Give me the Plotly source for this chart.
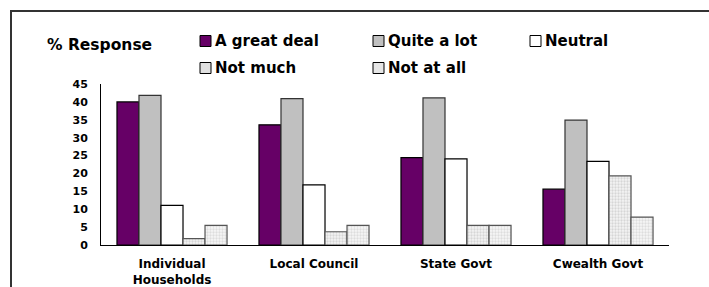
import plotly.graph_objects as go

categories = ["Individual<br>Households", "Local Council", "State Govt", "Cwealth Govt"]
series_names = ["A great deal", "Quite a lot", "Neutral", "Not much", "Not at all"]
great_deal = [40, 33.6, 24.4, 15.6]
quite_a_lot = [41.8, 40.9, 41.1, 34.9]
neutral = [11.1, 16.8, 24.1, 23.4]
not_much = [1.8, 3.7, 5.5, 19.3]
not_at_all = [5.5, 5.5, 5.5, 7.8]
y_ticks = [0, 5, 10, 15, 20, 25, 30, 35, 40, 45]

values = [great_deal, quite_a_lot, neutral, not_much, not_at_all]
fills = ["#660066", "#c0c0c0", "#ffffff", "#ffffff", "#ffffff"]
lines = ["#000000", "#333333", "#000000", "#555555", "#555555"]
patterns = [None, None, None,
            dict(shape=".", fgcolor="#b8b8b8", bgcolor="#f4f4f4", size=3, solidity=0.45),
            dict(shape=".", fgcolor="#c4c4c4", bgcolor="#f6f6f6", size=3, solidity=0.45)]
legend_fill = ["#660066", "#c0c0c0", "#ffffff", "#e0e0e0", "#e6e6e6"]

FONT = "DejaVu Sans, Liberation Sans, Arial, sans-serif"

fig = go.Figure()
for name, vals, fc, lc, pat in zip(series_names, values, fills, lines, patterns):
    marker = dict(color=fc, line=dict(color=lc, width=1.2))
    if pat:
        marker["pattern"] = pat
    fig.add_trace(go.Bar(x=categories, y=vals, name=name, marker=marker,
                         showlegend=False))

W, H = 709, 287
L, R, T, B = 101, 40, 84, 42
pw, ph = W - L - R, H - T - B

def px(x):
    return (x - L) / pw

def py(y):
    return (H - B - y) / ph

shapes = [dict(type="rect", xref="paper", yref="paper",
               x0=px(11), x1=px(760), y0=py(11), y1=py(340),
               line=dict(color="#333333", width=2), layer="below")]
annotations = [dict(text="% Response", xref="paper", yref="paper",
                    x=px(45), y=py(45), xanchor="left", yanchor="middle",
                    showarrow=False, font=dict(size=15.5, color="#000", weight="bold"))]
leg_pos = [(200, 41), (373, 41), (530, 41), (200, 68), (373, 68)]
for name, (lx, ly), lf in zip(series_names, leg_pos, legend_fill):
    shapes.append(dict(type="rect", xref="paper", yref="paper",
                       x0=px(lx), x1=px(lx + 11), y0=py(ly + 5.5), y1=py(ly - 5.5),
                       fillcolor=lf, line=dict(color="#000", width=1)))
    annotations.append(dict(text=name, xref="paper", yref="paper",
                            x=px(lx + 13), y=py(ly), xanchor="left", yanchor="middle",
                            showarrow=False, font=dict(size=15, color="#000", weight="bold")))

fig.update_layout(
    width=W, height=H,
    margin=dict(l=L, r=R, t=T, b=B),
    paper_bgcolor="white", plot_bgcolor="white",
    font=dict(family=FONT, color="#000"),
    barmode="group", bargap=0.225, bargroupgap=0,
    shapes=shapes, annotations=annotations,
    xaxis=dict(showline=True, linecolor="#000", linewidth=1, showgrid=False,
               ticks="", tickfont=dict(size=12, weight="bold"), automargin=False,
               ticklabelstandoff=8, zeroline=False),
    yaxis=dict(range=[0, 45], tickvals=y_ticks, showline=True, linecolor="#000",
               linewidth=1, showgrid=False, ticks="", zeroline=False, automargin=False,
               tickfont=dict(size=11, weight="bold"), ticklabelstandoff=10),
)
fig.write_html("out.html", config={"displayModeBar": False},
               post_script="document.body.style.margin='0';document.body.style.overflow='hidden';")
